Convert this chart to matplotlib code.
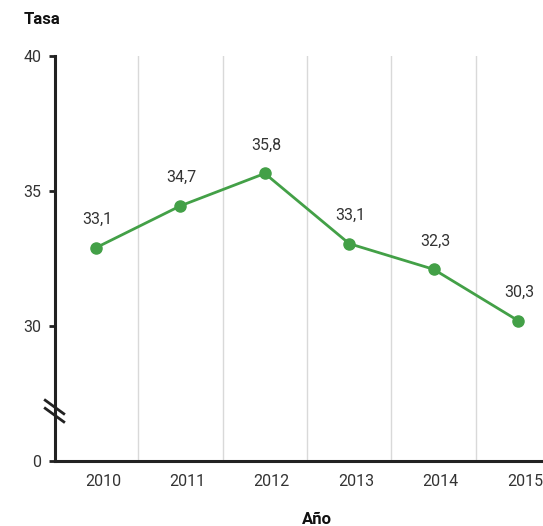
import matplotlib
matplotlib.use("Agg")
import matplotlib.pyplot as plt
import matplotlib.transforms as mtransforms

years = [2010, 2011, 2012, 2013, 2014, 2015]
values = [32.9, 34.45, 35.65, 33.05, 32.1, 30.2]
labels = ["33,1", "34,7", "35,8", "33,1", "32,3", "30,3"]
ytick_vals = [25, 30, 35, 40]
ytick_labels = ["0", "30", "35", "40"]

GREEN = "#43a047"
TXT = "#333333"
AX = "#222222"

plt.rcParams['font.family'] = ['Roboto', 'DejaVu Sans']

W, H = 543, 526
fig = plt.figure(figsize=(W / 100, H / 100), dpi=100)
ax = fig.add_axes([55 / W, 1 - 461 / H, 1 - 55 / W, (461 - 56) / H])

ax.set_xlim(2009.514, 2015.296)
ax.set_ylim(25, 40)

# vertical grid between years
for y in years[:-1]:
    ax.axvline(y + 0.5, color="#d9d9d9", lw=1, zorder=0)

ax.plot(years, values, color=GREEN, lw=2, marker="o", ms=8, zorder=3)

for x, v, t in zip(years, values, labels):
    ax.annotate(t, (x, v), xytext=(1, 15), textcoords="offset points",
                ha="center", va="bottom", fontsize=11.5, color=TXT)

for s in ["top", "right"]:
    ax.spines[s].set_visible(False)
for s in ["left", "bottom"]:
    ax.spines[s].set_color(AX)
    ax.spines[s].set_linewidth(2.2)

ax.set_yticks(ytick_vals)
ax.set_yticklabels(ytick_labels)
ax.tick_params(axis="y", length=4, width=2, color=AX, pad=6, labelsize=11.5, labelcolor=TXT)
ax.set_xticks(years)
ax.set_xticklabels([str(y) for y in years])
ax.tick_params(axis="x", length=0, pad=9, labelsize=11.5, labelcolor=TXT)
offset = mtransforms.ScaledTranslation(7 / 100, 0, fig.dpi_scale_trans)
for lab in ax.get_xticklabels():
    lab.set_transform(lab.get_transform() + offset)

# axis break marks
bt = ax.get_yaxis_transform()
for yy in (27.0, 26.7):
    ax.plot([-0.02, 0.018], [yy + 0.25, yy - 0.25], transform=bt,
            color=AX, lw=2, clip_on=False, zorder=5)

fig.text(24 / W, 1 - 20 / H, "Tasa", fontsize=12, fontweight="bold", color="#111111",
         ha="left", va="center")
fig.text(317 / W, 1 - 519 / H, "Año", fontsize=12, fontweight="bold", color="#111111",
         ha="center", va="center")

fig.savefig("out.png", dpi=100)
